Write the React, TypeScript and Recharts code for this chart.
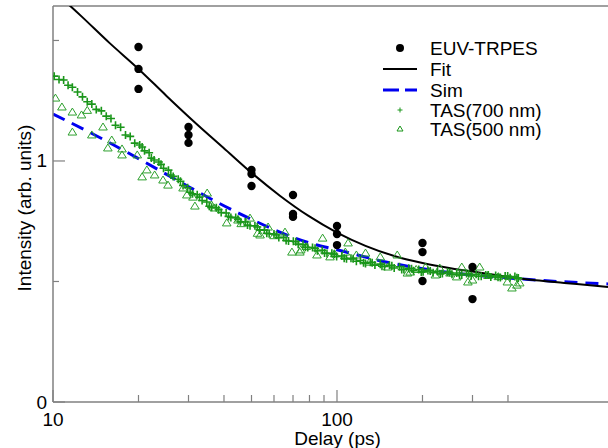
import React from "react";
import {
  ComposedChart,
  XAxis,
  YAxis,
  Line,
  Scatter,
  Legend,
  ReferenceLine,
  Label,
} from "recharts";

const FONT = '"Liberation Sans", Arial, Helvetica, sans-serif';
const GREEN = "#1a961a";
const BLUE = "#0000f0";
const AXIS = "#808080";

const X_MIN = 10;
const X_MAX = 900;
const Y_MAX = 1.643;

const xTicks = [10, 20, 30, 40, 50, 60, 70, 80, 90, 100, 200, 300, 400];
const xLabels = [10, 100];
const yTicks = [0, 0.5, 1, 1.5];
const yLabels = [0, 1];

// EUV-TRPES measurements
const euvT = [20, 20, 20, 30, 30, 30, 50, 50, 50, 70, 70, 70, 100, 100, 100, 200, 200, 200, 300, 300];
const euvI = [1.473, 1.382, 1.299, 1.141, 1.108, 1.075, 0.963, 0.946, 0.896, 0.859, 0.78, 0.768, 0.73, 0.697, 0.651, 0.66, 0.622, 0.502, 0.56, 0.427];

// fit curve
const fitT = [10, 12.6, 15.8, 20, 25.1, 31.6, 39.8, 50.1, 63.1, 79.4, 100, 126, 158, 200, 251, 316, 398, 501, 631, 794, 900];
const fitI = [1.708, 1.6, 1.49, 1.382, 1.27, 1.16, 1.055, 0.95, 0.855, 0.772, 0.703, 0.648, 0.607, 0.577, 0.555, 0.537, 0.52, 0.505, 0.494, 0.483, 0.477];

// simulation
const simT = [10, 15, 20, 28, 45, 80, 100, 150, 250, 400, 600, 900];
const simI = [1.195, 1.09, 1.01, 0.913, 0.784, 0.66, 0.632, 0.58, 0.537, 0.515, 0.5, 0.49];

// TAS 700 nm
const tas700T = [
  10.1, 10.5, 10.9, 11.3, 11.7, 12.2, 12.7, 13.2, 13.7, 14.2, 14.8, 15.4, 16.0, 16.6, 17.3, 18.0, 18.7, 19.4,
  20.2, 21.0, 21.8, 22.7, 23.6, 24.5, 25.5, 26.5, 27.6, 28.7, 29.8,
  31.0, 32.2, 33.5, 34.8, 36.2, 37.6, 39.1, 40.7, 42.3, 44.0, 45.7, 47.5, 49.4, 51.4, 53.4, 55.5, 57.7, 60.0,
  62.4, 64.9, 67.5, 70.2, 73.0, 75.9, 78.9, 82.0, 85.3, 88.7, 92.2, 95.9, 99.7,
  104, 108, 112, 117, 121, 126, 131, 136, 142, 147, 153, 159, 166, 172, 179, 186, 194, 201, 209, 218, 226,
  235, 245, 254, 264, 275, 286, 297, 309, 322, 334, 348, 362, 376, 391, 407, 423, 435,
  20.6, 22.2, 24.0, 26.0, 28.1, 30.4, 32.8, 35.5, 38.3, 41.5, 44.8, 48.4, 52.4, 56.6, 61.2, 66.2, 71.6, 77.4,
  83.7, 90.4, 97.8, 106, 114, 124, 133, 144, 156, 169, 183, 198, 213, 231, 249, 270, 291, 315, 341, 369, 399, 430,
];
const tas700I = [
  1.352, 1.338, 1.336, 1.314, 1.306, 1.286, 1.266, 1.246, 1.236, 1.214,
  1.208, 1.186, 1.176, 1.148, 1.14, 1.108, 1.102, 1.074, 1.066, 1.042,
  1.034, 1.004, 0.996, 0.97, 0.962, 0.936, 0.924, 0.898, 0.889, 0.864,
  0.86, 0.836, 0.83, 0.808, 0.806, 0.786, 0.784, 0.766, 0.765, 0.748,
  0.747, 0.731, 0.731, 0.714, 0.713, 0.698, 0.697, 0.682, 0.683, 0.668,
  0.667, 0.655, 0.653, 0.641, 0.641, 0.628, 0.629, 0.616, 0.617, 0.604,
  0.606, 0.594, 0.596, 0.584, 0.587, 0.575, 0.58, 0.568, 0.572, 0.562,
  0.567, 0.556, 0.561, 0.55, 0.555, 0.545, 0.55, 0.54, 0.546, 0.536,
  0.541, 0.533, 0.539, 0.53, 0.535, 0.527, 0.533, 0.524, 0.53, 0.522,
  0.527, 0.519, 0.525, 0.517, 0.523, 0.515, 0.521, 0.514,
  1.058, 1.012, 0.986, 0.942, 0.916, 0.87, 0.85, 0.812, 0.798, 0.77, 0.758, 0.734, 0.726, 0.7, 0.693, 0.67, 0.665, 0.642,
  0.638, 0.618, 0.613, 0.596, 0.594, 0.578, 0.578, 0.563, 0.565, 0.55, 0.553, 0.539, 0.544, 0.531, 0.537, 0.527, 0.532,
  0.522, 0.527, 0.518, 0.523, 0.515,
];

// TAS 500 nm
const tas500T = [
  10.2, 10.75, 11.7, 11.7, 12.6, 13.2, 13.7, 15.0, 15.6, 16.1, 17.5, 17.5, 19.8, 20.6, 21.4, 22.8, 24.4, 25.4,
  28.7, 29.6, 31.1, 31.6, 34.9, 36.2, 37, 40.9, 44.8, 46, 49.4, 52.5, 53.6, 57.2, 60, 65.6, 69.4, 74, 74.5,
  78, 85, 89, 94.5, 98, 107, 109.4, 117, 126, 130, 142, 151, 163, 177, 181, 190, 205, 222, 230, 250, 264,
  275, 289, 300, 318, 340, 370, 398, 413, 430, 440,
];
const tas500I = [
  1.261, 1.224, 1.203, 1.12, 1.191, 1.21, 1.108, 1.141, 1.054, 1.087, 1.025, 1.05, 1.025, 0.934, 0.963, 0.942, 0.921, 0.9,
  0.888, 0.859, 0.85, 0.813, 0.867, 0.817, 0.805, 0.743, 0.755, 0.74, 0.763, 0.7, 0.693, 0.726, 0.69, 0.705, 0.622, 0.622, 0.631,
  0.645, 0.61, 0.68, 0.602, 0.615, 0.622, 0.66, 0.61, 0.618, 0.58, 0.602, 0.56, 0.61, 0.535, 0.539, 0.55, 0.56, 0.527, 0.556, 0.535, 0.519,
  0.56, 0.498, 0.506, 0.56, 0.525, 0.52, 0.498, 0.473, 0.485, 0.494,
];

const legendRows = ["EUV-TRPES", "Fit", "Sim", "TAS(700 nm)", "TAS(500 nm)"];

const toPoints = (t: number[], v: number[]) => t.map((x, i) => ({ x, y: v[i] }));

const euvData = toPoints(euvT, euvI);
const fitData = toPoints(fitT, fitI);
const simData = toPoints(simT, simI);
const tas700Data = toPoints(tas700T, tas700I);
const tas500Data = toPoints(tas500T, tas500I);

const XTick = (props: any) => {
  const { x, y, payload } = props;
  const major = xLabels.includes(payload.value);
  return (
    <g>
      <line x1={x} x2={x} y1={y} y2={y - (major ? 12 : 7)} stroke={AXIS} strokeWidth={1.2} />
      {major && (
        <text x={x} y={y + 24} textAnchor="middle" fontSize={19} fontFamily={FONT} fill="#000">
          {payload.value}
        </text>
      )}
    </g>
  );
};

const YTick = (props: any) => {
  const { x, y, payload } = props;
  const major = yLabels.includes(payload.value);
  return (
    <g>
      <line x1={x} x2={x + (major ? 12 : 6)} y1={y} y2={y} stroke={AXIS} strokeWidth={1.2} />
      {major && (
        <text x={x - 6} y={y} textAnchor="end" dominantBaseline="central" fontSize={19} fontFamily={FONT} fill="#000">
          {payload.value}
        </text>
      )}
    </g>
  );
};

const Dot = (p: any) => <circle cx={p.cx} cy={p.cy} r={4.2} fill="#000" />;
const Plus = (p: any) => (
  <path d={`M${p.cx - 4},${p.cy}h8M${p.cx},${p.cy - 4}v8`} stroke={GREEN} strokeWidth={1.6} fill="none" />
);
const Tri = (p: any) => (
  <path
    d={`M${p.cx},${p.cy - 4}L${p.cx + 4.3},${p.cy + 3}L${p.cx - 4.3},${p.cy + 3}Z`}
    fill="none"
    stroke="#2ea02e"
    strokeWidth={1}
  />
);

const rowY = [18, 39, 60, 80, 99];

const LegendBox = () => (
  <svg width={220} height={110} style={{ overflow: "visible" }}>
    <circle cx={30} cy={rowY[0]} r={4} fill="#000" />
    <line x1={13} x2={47} y1={rowY[1]} y2={rowY[1]} stroke="#000" strokeWidth={2} />
    <line x1={13} x2={47} y1={rowY[2]} y2={rowY[2]} stroke={BLUE} strokeWidth={3} strokeDasharray="16 6" />
    <path d={`M27.5,${rowY[3]}h5M30,${rowY[3] - 2.5}v5`} stroke={GREEN} strokeWidth={1} />
    <path d={`M30,${rowY[4] - 3}L33,${rowY[4] + 2}L27,${rowY[4] + 2}Z`} fill="none" stroke={GREEN} strokeWidth={1} />
    {legendRows.map((name, i) => (
      <text key={name} x={60} y={rowY[i]} dominantBaseline="central" fontSize={19} fontFamily={FONT} fill="#000">
        {name}
      </text>
    ))}
  </svg>
);

export default function App() {
  return (
    <div style={{ position: "absolute", left: 0, top: 0, width: 608, height: 448, background: "#fff", fontFamily: FONT }}>
      <ComposedChart width={608} height={448} margin={{ top: 6, right: 0, bottom: 0, left: 0 }}>
        <XAxis
          dataKey="x"
          type="number"
          scale="log"
          domain={[X_MIN, X_MAX]}
          allowDataOverflow
          ticks={xTicks}
          interval={0}
          height={46}
          tickSize={0}
          tickMargin={0}
          tickLine={false}
          tick={<XTick />}
          axisLine={{ stroke: AXIS, strokeWidth: 1.5 }}
        >
          <Label value="Delay (ps)" position="insideBottom" offset={3} dx={7} fontSize={19} fontFamily={FONT} fill="#000" />
        </XAxis>
        <YAxis
          dataKey="y"
          type="number"
          domain={[0, Y_MAX]}
          allowDataOverflow
          ticks={yTicks}
          interval={0}
          width={53}
          tickSize={0}
          tickMargin={0}
          tickLine={false}
          tick={<YTick />}
          axisLine={{ stroke: AXIS, strokeWidth: 1.5 }}
          label={{
            content: (props: any) => {
              const vb = props.viewBox || { x: 0, y: 6, height: 396 };
              const cx = vb.x + 24;
              const cy = vb.y + vb.height / 2 + 4;
              return (
                <text
                  x={cx}
                  y={cy}
                  transform={`rotate(-90 ${cx} ${cy})`}
                  textAnchor="middle"
                  dominantBaseline="central"
                  fontSize={19}
                  fontFamily={FONT}
                  fill="#000"
                >
                  Intensity (arb. units)
                </text>
              );
            },
          }}
        />
        <ReferenceLine y={Y_MAX} stroke={AXIS} strokeWidth={1.5} />
        <Scatter data={tas500Data} dataKey="y" shape={Tri} isAnimationActive={false} />
        <Scatter data={tas700Data} dataKey="y" shape={Plus} isAnimationActive={false} />
        <Line
          data={simData}
          dataKey="y"
          type="monotone"
          stroke={BLUE}
          strokeWidth={3}
          strokeDasharray="13 8"
          dot={false}
          activeDot={false}
          isAnimationActive={false}
        />
        <Line
          data={fitData}
          dataKey="y"
          type="monotone"
          stroke="#000"
          strokeWidth={2}
          dot={false}
          activeDot={false}
          isAnimationActive={false}
        />
        <Scatter data={euvData} dataKey="y" shape={Dot} isAnimationActive={false} />
        <Legend
          content={<LegendBox />}
          layout="vertical"
          align="center"
          verticalAlign="middle"
          wrapperStyle={{ left: 370, top: 30, width: 220, height: 110 }}
        />
      </ComposedChart>
    </div>
  );
}
